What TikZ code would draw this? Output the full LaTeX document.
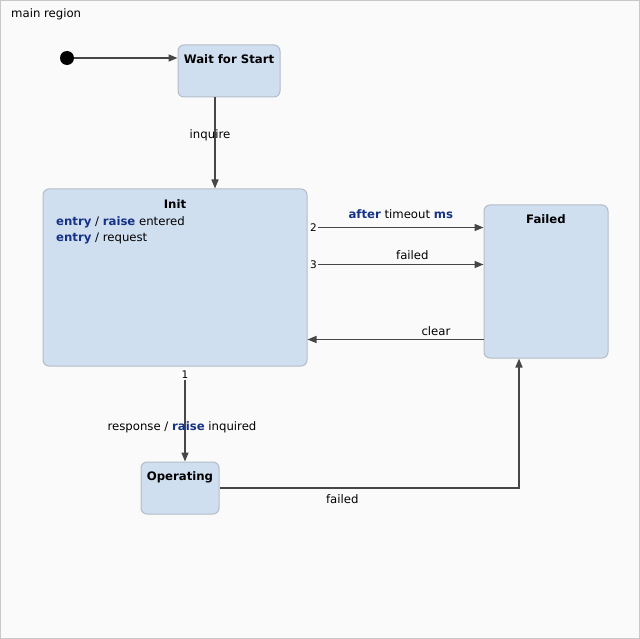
\documentclass[tikz,border=0pt]{standalone}
\usepackage{fontspec}
\setmainfont{DejaVu Sans}
\usepackage{xcolor}
\usetikzlibrary{arrows.meta,positioning,shapes.geometric}
\definecolor{regionbg}{RGB}{250,250,250}
\definecolor{regionline}{RGB}{200,200,200}
\definecolor{statefill}{RGB}{208,223,240}
\definecolor{stateline}{RGB}{180,188,200}
\definecolor{transgray}{RGB}{70,70,70}
\definecolor{kwblue}{RGB}{22,50,135}
\newcommand{\kw}[1]{\textcolor{kwblue}{\textbf{#1}}}

\begin{document}
\begin{tikzpicture}
[x=1pt, y=-1pt, font=\fontsize{11.7}{16}\selectfont,
% STYLES
% The state style is used to draw the state boxes
state/.style={rectangle, rounded corners=6pt, draw=stateline, fill=statefill, line width=1pt, inner sep=0pt},
% The title style is used to write the state's name
title/.style={inner sep=0pt, font=\fontsize{11.7}{14}\selectfont\bfseries},
% The trans style is used to draw the transitions
trans/.style={draw=transgray, line width=1.5pt, -{Triangle[length=9pt,width=7pt]}},
% The lbl style is used for transition labels
lbl/.style={inner sep=0pt, anchor=base},
% The num style is used for the priority numbers
num/.style={inner sep=1pt, fill=regionbg, font=\fontsize{10.5}{12}\selectfont}]
\useasboundingbox (0,0) rectangle (640,639);
% Region
\draw[regionline, fill=regionbg, line width=1pt] (0.5,0.5) rectangle (639.5,638.5);
\node[inner sep=0pt, anchor=base west] (region) at (11,18) {main region};
% Draw states
\node[circle, fill=black, inner sep=0pt, minimum size=14pt] (start) at (67,58) {};
\node[state, minimum width=102pt, minimum height=52pt] (wait) at (229,71) {};
\node[state, minimum width=264pt, minimum height=177pt] (init) at (175,277.5) {};
\node[state, minimum width=124pt, minimum height=153pt] (failed) at (546,281.5) {};
\node[state, minimum width=78pt, minimum height=52pt] (operating) at (180,488) {};
% Titles
\node[title, below=10pt of wait.north] (wait-title) {Wait for Start};
\node[title, below=11pt of init.north] (init-title) {Init};
\node[title, below=10pt of failed.north] (failed-title) {Failed};
\node[title, below=10pt of operating.north] (operating-title) {Operating};
% Entry actions of Init
\node[inner sep=0pt, anchor=north west, align=left] (init-entry) at (56,216.5) {\kw{entry} / \kw{raise} entered\\ \kw{entry} / request};
% Priority numbers
\node[num] (n1) at ([xshift=10pt, yshift=-8pt]init.south) {1};
\node[num, fill=white, circle, inner sep=0.5pt] at (n1) {1};
\node[num] (n2) at ([xshift=6pt, yshift=-39pt]init.north east) {2};
\node[num] (n3) at ([xshift=6pt, yshift=-76pt]init.north east) {3};
\coordinate (c-clear) at ([yshift=-135pt]failed.north west);
% Draw the transitions
\draw[trans] (start) -- (start -| wait.west);
\draw[trans] ([xshift=-14pt]wait.south) -- ([xshift=-14pt]wait.south |- init.north)
  node[lbl, pos=0.446, xshift=-5pt] {inquire};
\draw[trans] (n2) -- (n2 -| failed.west)
  node[lbl, pos=0.5, yshift=9pt] {\kw{after} timeout \kw{ms}};
\draw[trans] (n3) -- (n3 -| failed.west)
  node[lbl, pos=0.57, yshift=4.5pt] {failed};
\draw[trans] (c-clear) -- (c-clear -| init.east)
  node[lbl, pos=0.27, yshift=4.5pt] {clear};
\draw[trans] (n1) -- (n1 |- operating.north)
  node[lbl, pos=0.62, xshift=-3pt] {response / \kw{raise} inquired};
\draw[trans] (operating.east) -| ([xshift=-27pt]failed.south)
  node[lbl, pos=0.205, yshift=-15pt] {failed};
\end{tikzpicture}
\end{document}
